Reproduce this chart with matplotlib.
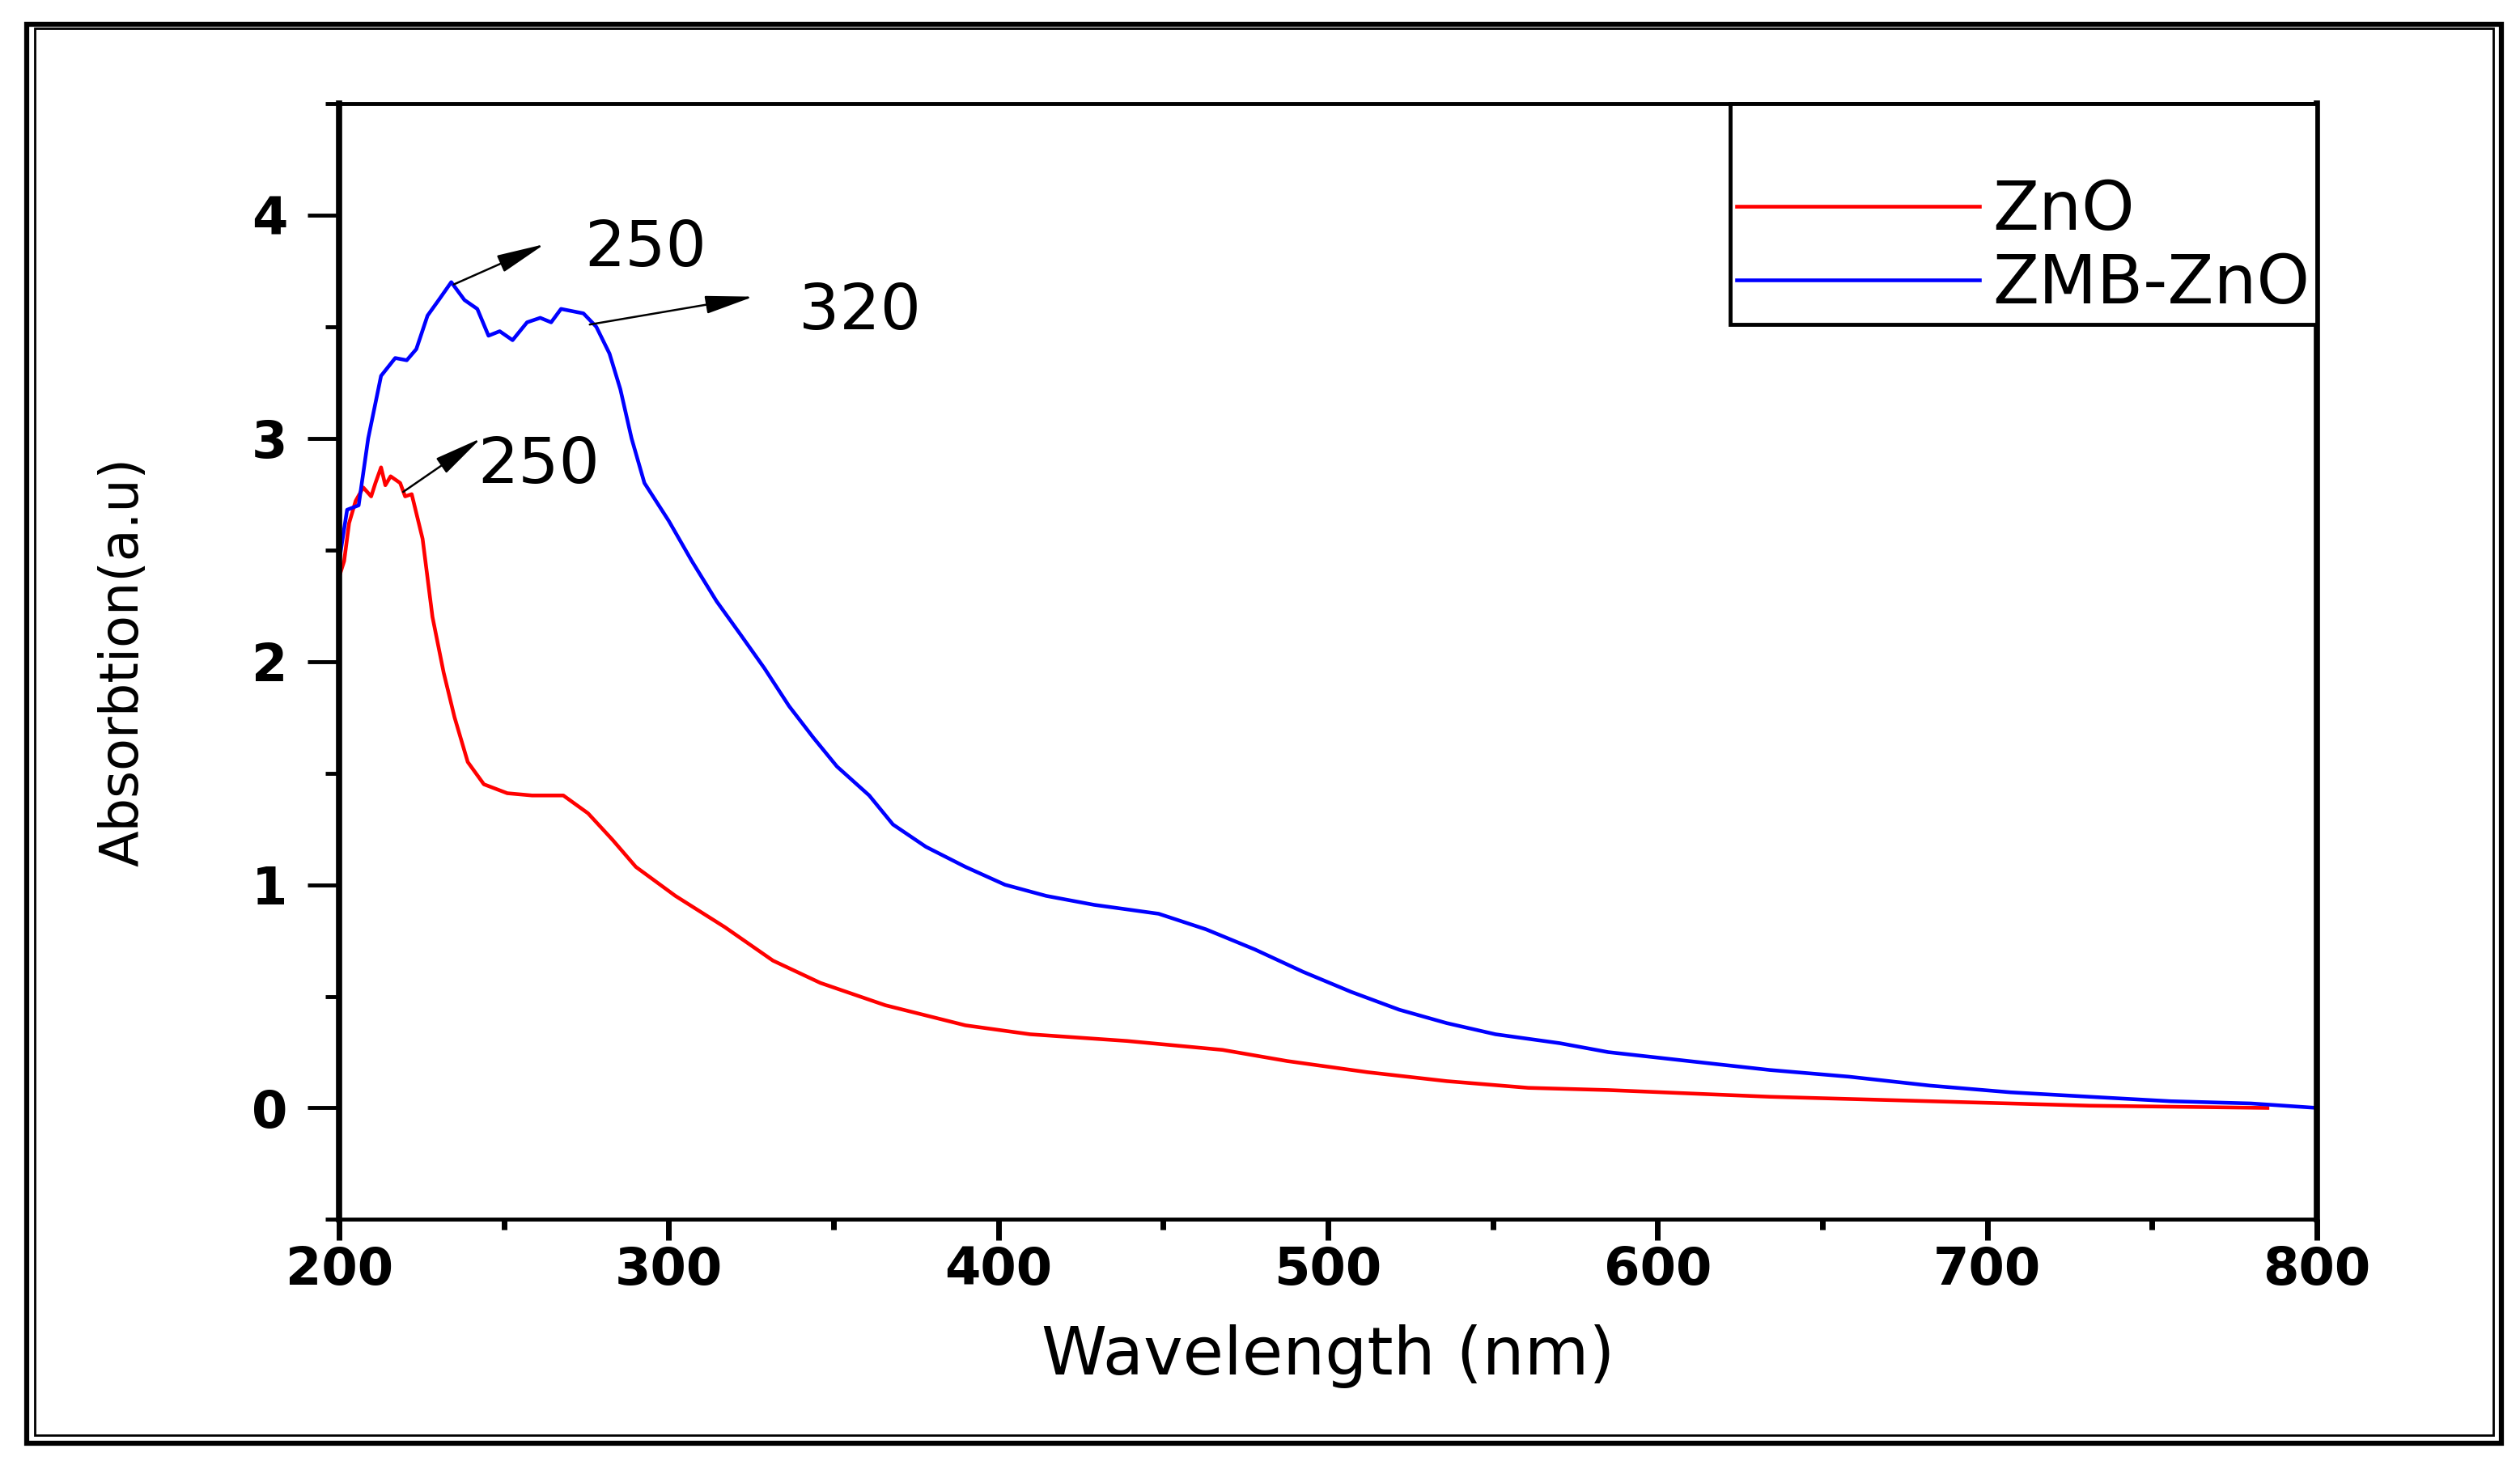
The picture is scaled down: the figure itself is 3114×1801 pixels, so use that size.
import numpy as np
import matplotlib.pyplot as plt
from matplotlib.patches import Rectangle
from matplotlib.ticker import MultipleLocator

# absorption spectra
wl_zno = [200, 201.5, 203, 205, 207.3, 209.7, 211, 212.7, 214, 215.6, 218.5, 220, 222,
          225.3, 228.3, 231.7, 235, 239, 243.9, 251, 258.5, 268, 275.5, 283, 290,
          302, 317, 331.6, 346, 365.7, 390, 409.6, 439, 468, 487.6, 512, 536,
          560.7, 585, 634, 682.6, 731, 785]
abs_zno = [2.38, 2.45, 2.62, 2.72, 2.78, 2.74, 2.80, 2.87, 2.79, 2.83, 2.80, 2.74, 2.75,
           2.55, 2.20, 1.95, 1.75, 1.55, 1.45, 1.41, 1.40, 1.40, 1.32, 1.20, 1.08,
           0.95, 0.81, 0.66, 0.56, 0.46, 0.37, 0.33, 0.30, 0.26, 0.21, 0.16, 0.12,
           0.09, 0.08, 0.05, 0.03, 0.01, 0.00]

wl_zmb = [200, 202.4, 205.9, 208.8, 212.7, 217, 220.5, 223.4, 226.8, 230.2, 234,
          238, 241.9, 245.3, 248.7, 252.6, 257, 261, 264.3, 267.3, 270.7, 274.1,
          278, 282, 285.3, 288.7, 292.6, 300, 307, 314.5, 321.8, 329, 336.5,
          343.8, 351, 360.8, 368, 378, 390, 402, 414.5, 429, 448.6, 463, 477.8,
          492.4, 507, 521.6, 536, 550.8, 570.3, 585, 609.4, 634, 658, 682.6, 707,
          731, 755.6, 780, 800]
abs_zmb = [2.45, 2.68, 2.70, 3.00, 3.28, 3.36, 3.35, 3.40, 3.55, 3.62, 3.70,
           3.62, 3.58, 3.46, 3.48, 3.44, 3.52, 3.54, 3.52, 3.58, 3.57, 3.56,
           3.50, 3.38, 3.22, 3.00, 2.80, 2.63, 2.45, 2.27, 2.12, 1.97, 1.80,
           1.66, 1.53, 1.40, 1.27, 1.17, 1.08, 1.00, 0.95, 0.91, 0.87, 0.80, 0.71,
           0.61, 0.52, 0.44, 0.38, 0.33, 0.29, 0.25, 0.21, 0.17, 0.14, 0.10, 0.07,
           0.05, 0.03, 0.02, 0.00]

# peak labels: text, text position, arrow tail, arrow head
peak_labels = ['250', '320', '250']
label_pos = [(274.3, 3.85), (339.3, 3.57), (242.0, 2.88)]
arrow_tail = [(234.8, 3.69), (276.0, 3.51), (219.4, 2.76)]
arrow_head = [(262.3, 3.87), (325.7, 3.635), (243.0, 3.00)]

plt.rcParams['font.family'] = 'DejaVu Sans'

fig = plt.figure(figsize=(31.14, 18.01), dpi=100)
ax = fig.add_axes([0.1346, 0.1630, 0.7848, 0.7659])

ax.plot(wl_zno, abs_zno, color='#ff0000', lw=3.3, label='ZnO')
ax.plot(wl_zmb, abs_zmb, color='#0000ff', lw=3.3, label='ZMB-ZnO')

for t, p, a, b in zip(peak_labels, label_pos, arrow_tail, arrow_head):
    ax.annotate('', xy=b, xytext=a,
                arrowprops=dict(arrowstyle='-|>,head_length=0.7,head_width=0.13',
                                color='black', lw=1.8, shrinkA=0, shrinkB=0,
                                mutation_scale=53))
    ax.text(p[0], p[1], t, fontsize=57, ha='left', va='center')

ax.set_xlim(200, 800)
ax.set_ylim(-0.5, 4.5)
ax.xaxis.set_major_locator(MultipleLocator(100))
ax.xaxis.set_minor_locator(MultipleLocator(50))
ax.yaxis.set_major_locator(MultipleLocator(1))
ax.yaxis.set_minor_locator(MultipleLocator(0.5))

ax.tick_params(axis='x', which='major', direction='out', length=19, width=5, pad=4)
ax.tick_params(axis='x', which='minor', direction='out', length=9, width=5)
ax.tick_params(axis='y', which='major', direction='out', length=28, width=3.5, pad=18)
ax.tick_params(axis='y', which='minor', direction='out', length=12, width=3.5)
for lab in ax.get_xticklabels() + ax.get_yticklabels():
    lab.set_fontsize(46)
    lab.set_fontweight('bold')

for s in ['left', 'right']:
    ax.spines[s].set_linewidth(5.5)
for s in ['top', 'bottom']:
    ax.spines[s].set_linewidth(3.5)

ax.set_xlabel('Wavelength (nm)', fontsize=59)
ax.set_ylabel('Absorbtion(a.u)', fontsize=47)
ax.xaxis.set_label_coords(0.5, -0.094)
ax.yaxis.set_label_coords(-0.096, 0.5)

leg = ax.legend(loc='upper right', bbox_to_anchor=(1, 1), borderaxespad=0,
                fontsize=60, title=' ', title_fontsize=55, fancybox=False,
                edgecolor='black', framealpha=1, handlelength=3.6,
                handletextpad=0.2, labelspacing=0.12, borderpad=0.1)
leg.get_frame().set_linewidth(3.5)

# double frame around the whole picture
fig.patches.append(Rectangle((33 / 3114, 1 - 1784 / 1801), 3058 / 3114, 1754 / 1801,
                             transform=fig.transFigure, fill=False, ec='black', lw=4.5))
fig.patches.append(Rectangle((43 / 3114, 1 - 1774 / 1801), 3038 / 3114, 1739 / 1801,
                             transform=fig.transFigure, fill=False, ec='black', lw=2))

fig.savefig('out.png', dpi=100)
